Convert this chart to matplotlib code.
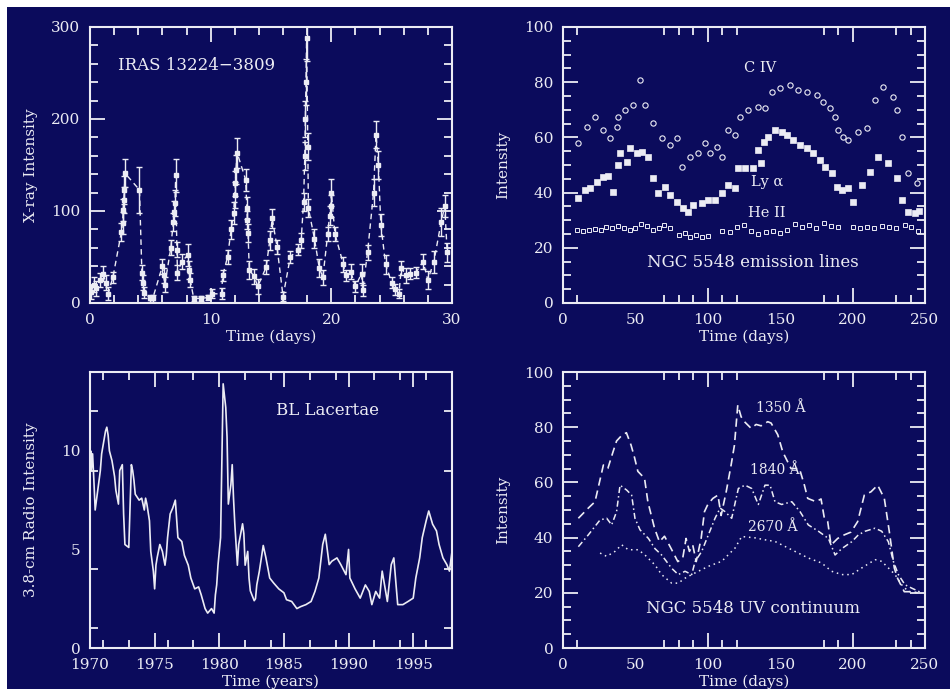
import matplotlib
matplotlib.use('Agg')
import matplotlib.pyplot as plt
from matplotlib.patches import Rectangle

NAVY = '#0b0b5c'
FG = '#ececf4'

# ---------------- Panel 1: IRAS X-ray light curve ----------------
xray_t = [0.1, 0.3, 0.5, 0.8, 1.1, 1.3, 1.5, 1.9, 2.6, 2.7, 2.75, 2.8, 2.85, 2.9,
          4.1, 4.3, 4.4, 4.5, 5.0, 5.2, 6.0, 6.1, 6.2, 6.7, 6.9, 7.0, 7.05, 7.1,
          7.2, 7.25, 7.6, 8.1, 8.2, 8.3, 8.6, 9.2, 9.8, 10.1, 10.9, 11.0, 11.4,
          11.7, 11.9, 12.0, 12.05, 12.1, 12.2, 12.9, 13.0, 13.05, 13.1, 13.2,
          13.6, 13.9, 14.6, 14.9, 15.1, 15.5, 16.0, 16.6, 17.2, 17.5, 17.7, 17.8,
          17.85, 17.9, 17.95, 18.05, 18.1, 18.6, 19.0, 19.3, 19.7, 19.85, 19.95,
          20.0, 20.3, 21.0, 21.2, 21.6, 22.0, 22.5, 22.6, 23.0, 23.5, 23.7, 23.9,
          24.1, 24.5, 25.0, 25.3, 25.6, 25.8, 26.2, 26.5, 27.0, 27.6, 28.0, 28.5,
          29.1, 29.4, 29.6]
xray_f = [12, 20, 16, 25, 32, 22, 10, 28, 77, 87, 101, 112, 123, 141,
          123, 33, 22, 11, 5, 5, 40, 30, 20, 60, 88, 99, 109, 139,
          58, 33, 45, 52, 36, 25, 5, 5, 6, 10, 10, 30, 50,
          80, 98, 117, 130, 145, 163, 134, 103, 90, 76, 36,
          29, 18, 39, 68, 92, 61, 7, 50, 58, 68, 110, 160,
          200, 240, 288, 170, 103, 70, 38, 28, 75, 95, 105,
          120, 75, 42, 30, 34, 18, 32, 14, 55, 120, 183, 150,
          85, 42, 22, 15, 10, 38, 30, 32, 33, 45, 25, 45,
          88, 105, 55]
xray_err = [8, 8, 8, 8, 8, 8, 7, 6, 10, 12, 12, 14, 15, 15,
            25, 8, 8, 6, 4, 4, 8, 8, 8, 8, 10, 12, 14, 18,
            8, 8, 8, 12, 10, 8, 3, 3, 3, 5, 6, 6, 8,
            10, 12, 14, 14, 16, 16, 12, 12, 10, 10, 10,
            8, 8, 8, 10, 10, 8, 5, 6, 6, 8, 10, 15,
            20, 25, 25, 15, 10, 10, 10, 8, 8, 10, 12,
            15, 8, 8, 6, 8, 6, 10, 6, 8, 15, 15, 15,
            12, 10, 6, 6, 5, 8, 8, 6, 6, 8, 10, 12,
            15, 12, 10]

# ---------------- Panel 2: NGC 5548 emission lines ----------------
civ_t = [10.4, 16.6, 22.1, 27.6, 32.5, 37.3, 38.0, 42.8, 48.3, 53.2, 56.6, 62.2,
         68.4, 73.9, 78.7, 82.2, 87.7, 93.2, 98.1, 101.5, 106.4, 109.8, 114.0,
         118.8, 122.2, 127.7, 134.7, 139.5, 144.3, 149.9, 156.8, 162.3, 168.5,
         175.4, 179.6, 184.4, 187.8, 189.9, 193.4, 196.8, 203.7, 209.9, 215.5,
         221.0, 227.9, 230.7, 234.1, 238.3, 244.5]
civ_f = [58.0, 63.8, 67.4, 62.7, 59.8, 63.8, 67.4, 69.9, 71.7, 80.8, 71.7, 65.2,
         59.8, 57.2, 59.8, 49.3, 52.9, 54.3, 58.0, 54.3, 56.5, 52.9, 62.7,
         60.9, 67.4, 69.9, 71.0, 70.7, 76.4, 77.9, 79.0, 77.2, 76.4,
         75.4, 72.8, 70.7, 67.4, 62.7, 60.1, 59.1, 62.0, 63.4, 73.6,
         78.3, 74.6, 69.9, 60.1, 47.1, 43.5]

lya_t = [10.4, 15.2, 18.6, 23.4, 27.9, 31.0, 34.5, 38.0, 39.4, 44.0, 46.3, 51.0,
         54.6, 58.7, 62.2, 65.6, 70.4, 73.9, 78.7, 82.9, 86.3, 89.8, 96.0, 100.0,
         104.8, 109.8, 114.0, 118.8, 121.0, 126.0, 131.0, 134.5, 137.0, 139.0,
         141.6, 146.4, 151.2, 154.7, 158.8, 163.7, 168.5, 172.6, 177.5, 180.9,
         185.8, 189.2, 192.7, 196.8, 200.3, 206.5, 212.0, 217.5, 224.4, 230.7,
         234.1, 238.3, 243.0, 246.0]
lya_f = [38.0, 40.9, 41.7, 43.8, 45.7, 45.9, 40.2, 50.0, 54.3, 51.1, 56.2, 54.3,
         54.7, 52.9, 45.3, 39.9, 42.0, 39.1, 36.6, 34.4, 33.0, 35.5, 36.2, 37.3,
         37.3, 39.9, 42.8, 41.7, 48.9, 49.0, 48.9, 55.5, 50.6, 58.5,
         60.1, 62.7, 62.0, 60.9, 59.1, 57.2, 56.2, 54.3, 51.8, 49.3,
         47.1, 42.0, 40.9, 41.7, 36.6, 42.8, 47.5, 52.9, 50.7, 45.3,
         37.3, 33.0, 32.6, 33.5]

heii_t = [10, 14, 18, 22, 26, 30, 34, 38, 42, 46, 50, 54, 58, 62, 66, 70, 74,
          80, 84, 88, 92, 96, 100, 110, 115, 120, 125, 130, 135, 140, 145, 150,
          155, 160, 165, 170, 175, 180, 185, 190, 200, 205, 210, 215, 220, 225,
          230, 236, 240, 245]
heii_f = [26.5, 26.0, 26.3, 26.8, 26.4, 27.5, 27.0, 27.8, 27.3, 26.5, 27.0, 28.5,
          28.0, 26.5, 27.0, 28.4, 27.2, 24.5, 25.2, 24.0, 24.6, 23.8, 24.2, 26.0,
          25.6, 27.5, 28.2, 26.0, 25.0, 25.6, 26.2, 25.4, 26.6, 28.5, 27.5, 28.4,
          27.0, 29.0, 28.0, 27.4, 27.5, 27.0, 27.6, 27.0, 28.0, 27.4, 27.0, 28.2,
          27.5, 26.0]

# ---------------- Panel 3: BL Lacertae radio ----------------
radio_t = [1970.0, 1970.05, 1970.1, 1970.2, 1970.3, 1970.4, 1970.5, 1970.6, 1970.8,
           1970.9, 1971.2, 1971.3, 1971.4, 1971.5, 1971.7, 1971.9, 1972.0, 1972.2,
           1972.3, 1972.5, 1972.6, 1972.7, 1973.0, 1973.2, 1973.3, 1973.4, 1973.5,
           1973.8, 1974.0, 1974.2, 1974.3, 1974.4, 1974.6, 1974.7, 1974.9, 1975.0,
           1975.1, 1975.2, 1975.4, 1975.6, 1975.8, 1975.9, 1976.0, 1976.2, 1976.4,
           1976.6, 1976.8, 1977.1, 1977.3, 1977.6, 1977.8, 1978.1, 1978.4, 1978.6,
           1978.9, 1979.1, 1979.4, 1979.6, 1979.7, 1979.8, 1979.9, 1980.1, 1980.2,
           1980.3, 1980.5, 1980.6, 1980.7, 1980.9, 1981.0, 1981.1, 1981.2, 1981.4,
           1981.5, 1981.8, 1981.9, 1982.0, 1982.2, 1982.3, 1982.4, 1982.7, 1982.8,
           1982.9, 1983.1, 1983.4, 1983.6, 1983.9, 1984.2, 1984.6, 1985.0, 1985.2,
           1985.6, 1986.0, 1986.3, 1986.7, 1987.1, 1987.4, 1987.7, 1988.0, 1988.2,
           1988.5, 1988.7, 1989.1, 1989.4, 1989.8, 1990.0, 1990.1, 1990.5, 1990.9,
           1991.3, 1991.6, 1991.8, 1992.1, 1992.4, 1992.6, 1993.0, 1993.3, 1993.5,
           1993.8, 1994.2, 1994.6, 1995.0, 1995.2, 1995.5, 1995.7, 1996.0, 1996.2,
           1996.5, 1996.8, 1997.0, 1997.3, 1997.6, 1997.8, 1998.0]
radio_f = [8.7, 10.0, 9.0, 9.85, 8.5, 7.0, 7.5, 8.0, 9.0,
           9.85, 11.0, 11.2, 10.8, 10.0, 9.5, 8.7, 8.0, 7.3,
           9.0, 9.3, 6.8, 5.25, 5.1, 9.3, 9.0, 8.5, 7.8,
           7.5, 7.6, 7.0, 7.6, 7.3, 6.45, 4.9, 3.9, 3.0,
           4.2, 4.6, 5.25, 4.9, 4.2, 4.7, 5.6, 6.8, 7.1,
           7.5, 5.6, 5.4, 4.7, 4.2, 3.55, 3.0, 3.1, 2.7,
           2.0, 1.77, 2.0, 1.77, 2.7, 3.2, 4.2, 5.6, 9.5,
           13.4, 12.2, 10.7, 7.3, 8.3, 9.3, 7.6, 6.3, 4.2,
           5.25, 6.3, 5.8, 4.2, 4.9, 3.55, 2.9, 2.4, 2.5,
           3.2, 3.9, 5.2, 4.6, 3.55, 3.3, 3.0, 2.8, 2.45,
           2.36, 2.0, 2.1, 2.2, 2.36, 2.87, 3.55, 5.25, 5.77,
           4.23, 4.4, 4.57, 4.23, 3.72, 5.0, 3.55, 3.0, 2.53,
           3.2, 2.87, 2.2, 2.87, 2.53, 3.9, 2.36, 4.23, 4.57,
           2.2, 2.2, 2.36, 2.53, 3.55, 4.57, 5.6, 6.45, 6.95,
           6.28, 5.94, 5.25, 4.57, 4.23, 3.9, 4.9]

# ---------------- Panel 4: NGC 5548 UV continuum ----------------
uv1350_t = [10.6, 17.5, 22.1, 27.9, 31.0, 34.5, 37.0, 40.5, 43.8, 47.0, 49.4, 51.7,
            56.3, 58.6, 63.2, 66.6, 70.1, 74.7, 79.3, 82.7, 85.0, 87.3, 89.6, 92.0,
            95.4, 97.7, 100.0, 103.5, 107.0, 109.2, 112.7, 116.1, 118.4, 120.7,
            123.0, 125.3, 129.9, 133.4, 136.8, 141.4, 143.7, 148.3, 151.8, 157.5,
            163.3, 166.7, 169.0, 174.8, 178.2, 180.5, 182.8, 185.1, 189.7, 194.3,
            198.9, 203.5, 208.1, 212.7, 217.3, 221.9, 225.4, 228.8, 231.1, 235.7,
            240.3, 245.0]
uv1350_f = [47.0, 50.7, 53.0, 66.3, 65.1, 71.0, 75.0, 77.0, 78.0, 73.5, 69.0, 64.0,
            61.5, 53.0, 43.4, 38.5, 40.5, 36.0, 31.3, 32.6, 39.7, 35.0, 37.3, 31.3,
            39.7, 49.4, 52.0, 54.2, 55.4, 48.0, 56.6, 66.3, 73.5, 88.0,
            83.8, 82.0, 79.6, 81.0, 80.5, 82.0, 81.5, 77.3, 71.0, 65.0,
            65.0, 59.0, 54.2, 53.0, 54.0, 47.0, 45.8, 37.3, 39.7, 41.0,
            42.0, 45.8, 55.4, 56.6, 59.0, 54.2, 42.0, 29.0, 25.2, 20.4,
            20.4, 20.0]

uv1840_t = [10.6, 17.5, 25.6, 30.2, 33.6, 37.0, 39.4, 44.0, 47.4, 49.7, 53.2, 59.0,
            63.5, 68.1, 75.0, 79.6, 84.3, 88.9, 91.2, 95.8, 100.4, 105.0, 108.5,
            111.9, 116.5, 121.1, 125.7, 130.3, 134.9, 139.5, 143.0, 146.4, 151.0,
            158.0, 163.7, 169.4, 176.4, 183.3, 187.9, 192.5, 199.4, 204.0, 208.6,
            215.5, 220.1, 224.7, 228.2, 231.6, 236.2, 240.8, 247.7]
uv1840_f = [36.7, 41.0, 46.4, 47.0, 44.6, 49.4, 59.0, 57.2, 55.4, 47.0, 42.8, 39.7,
            36.0, 33.7, 28.9, 26.6, 27.8, 26.6, 31.3, 35.0, 41.0, 47.0, 50.7,
            49.4, 47.0, 57.8, 59.0, 57.8, 52.0, 59.0, 59.0, 53.0, 52.0,
            53.0, 49.4, 44.6, 42.3, 39.7, 33.7, 36.0, 38.5, 41.0, 42.3,
            43.4, 42.3, 38.5, 31.3, 26.6, 22.9, 21.7, 20.0]

uv2670_t = [25.6, 30.2, 35.9, 40.5, 45.1, 52.0, 56.6, 63.5, 68.1, 75.0, 79.6, 84.3,
            88.9, 95.8, 100.4, 109.6, 118.8, 123.4, 132.6, 139.5, 146.4, 155.6,
            162.5, 169.4, 178.6, 185.5, 192.5, 199.4, 206.3, 215.5, 220.1, 224.7,
            229.3, 233.9, 238.5, 245.4]
uv2670_f = [34.4, 33.2, 35.0, 37.4, 35.6, 35.6, 33.7, 30.1, 26.6, 23.5, 23.5, 25.3,
            26.6, 28.4, 29.6, 31.4, 36.2, 40.4, 39.9, 39.2, 38.6, 36.2,
            34.4, 32.6, 30.8, 27.8, 26.6, 26.6, 29.0, 32.0, 31.4, 29.0,
            26.6, 22.9, 20.5, 20.0]

# ---------------- Figure ----------------
plt.rcParams['font.family'] = ['DejaVu Serif']
fig = plt.figure(figsize=(9.5, 6.89), dpi=100, facecolor='white')
fig.patches.append(Rectangle((7 / 950, 0), 1, 1 - 7 / 689, transform=fig.transFigure,
                             facecolor=NAVY, edgecolor='none', zorder=-10))

W, H = 362 / 950, 276 / 689
ax1 = fig.add_axes([90 / 950, 1 - 303 / 689, W, H])
ax2 = fig.add_axes([563 / 950, 1 - 303 / 689, W, H])
ax3 = fig.add_axes([90 / 950, 1 - 648 / 689, W, H])
ax4 = fig.add_axes([563 / 950, 1 - 648 / 689, W, H])


def style(ax):
    ax.set_facecolor(NAVY)
    for s in ax.spines.values():
        s.set_color(FG)
        s.set_linewidth(1.5)
    ax.tick_params(which='both', direction='in', top=True, right=True,
                   color=FG, labelcolor=FG, width=1.3, labelsize=11, pad=7)
    ax.tick_params(which='major', length=11)
    ax.tick_params(which='minor', length=5.5)
    ax.yaxis.set_label_coords(-0.145, 0.5)
    ax.xaxis.set_label_coords(0.5, -0.098)


for ax in (ax1, ax2, ax3, ax4):
    style(ax)

# Panel 1
ax1.errorbar(xray_t, xray_f, yerr=xray_err, fmt='s', ms=3, color=FG,
             ecolor=FG, elinewidth=1.0, capsize=2, capthick=1.0)
ax1.plot(xray_t, xray_f, color=FG, lw=1.0, ls=(0, (4, 3)))
ax1.set_xlim(0, 30)
ax1.set_ylim(0, 300)
ax1.set_xticks([0, 10, 20, 30])
ax1.set_xticks(list(range(0, 31, 2)), minor=True)
ax1.set_yticks([0, 100, 200, 300])
ax1.set_yticks(list(range(0, 301, 20)), minor=True)
ax1.set_xlabel('Time (days)', fontsize=11, color=FG)
ax1.set_ylabel('X-ray Intensity', fontsize=11, color=FG)
ax1.text(8.8, 258, 'IRAS 13224\u22123809', ha='center', va='center',
         fontsize=12, color=FG)

# Panels 2 and 4 share axis setup
for ax in (ax2, ax4):
    ax.set_xlim(0, 250)
    ax.set_ylim(0, 100)
    ax.set_xticks([0, 50, 100, 150, 200, 250])
    ax.tick_params(axis='x', which='major', length=0)
    ax.set_xticks([10, 70, 80, 90, 110, 120, 180, 190, 230, 240], minor=True)
    ax.set_yticks([0, 20, 40, 60, 80, 100])
    ax.set_yticks(list(range(0, 101, 5)), minor=True)
    for loc in ('bottom', 'top'):
        sec = ax.secondary_xaxis(loc)
        sec.set_xticks([100, 200])
        sec.tick_params(direction='in', length=11, width=1.3, color=FG,
                        labelbottom=False, labeltop=False)
        for s in sec.spines.values():
            s.set_visible(False)
    ax.set_xlabel('Time (days)', fontsize=11, color=FG)
    ax.set_ylabel('Intensity', fontsize=11, color=FG)

# Panel 2
ax2.plot(civ_t, civ_f, 'o', ms=3.8, mfc='none', mec=FG, mew=0.8)
ax2.plot(lya_t, lya_f, 's', ms=3.8, mfc=FG, mec=FG, mew=0.5)
ax2.plot(heii_t, heii_f, 's', ms=2.6, mfc='none', mec=FG, mew=0.7)
ax2.text(136, 85, 'C IV', ha='center', va='center', fontsize=10.5, color=FG)
ax2.text(141, 44, 'Ly \u03b1', ha='center', va='center', fontsize=10.5, color=FG)
ax2.text(141, 32.5, 'He II', ha='center', va='center', fontsize=10.5, color=FG)
ax2.text(131, 14.5, 'NGC 5548 emission lines', ha='center', va='center',
         fontsize=12, color=FG)

# Panel 3
ax3.plot(radio_t, radio_f, color=FG, lw=1.2)
ax3.set_xlim(1970, 1998)
ax3.set_ylim(0, 14)
ax3.set_xticks([1970, 1975, 1980, 1985, 1990, 1995])
ax3.set_xticks([1971, 1973, 1976, 1978, 1982, 1984, 1987, 1989, 1992, 1994, 1996],
               minor=True)
ax3.set_yticks([0, 5, 10])
ax3.tick_params(axis='y', which='major', length=0)
ax3.set_yticks([1, 4, 9, 12], minor=True)
ax3.set_xlabel('Time (years)', fontsize=11, color=FG)
ax3.set_ylabel('3.8-cm Radio Intensity', fontsize=11, color=FG)
ax3.text(1988.4, 12.06, 'BL Lacertae', ha='center', va='center',
         fontsize=12, color=FG)

# Panel 4
ax4.plot(uv1350_t, uv1350_f, color=FG, lw=1.2, ls=(0, (5, 3)))
ax4.plot(uv1840_t, uv1840_f, color=FG, lw=1.1, ls=(0, (4, 2, 1, 2)))
ax4.plot(uv2670_t, uv2670_f, color=FG, lw=1.1, ls=(0, (1, 2.5)))
ax4.text(133, 87, '1350 \u00c5', ha='left', va='center', fontsize=10, color=FG)
ax4.text(146, 64.5, '1840 \u00c5', ha='center', va='center', fontsize=10, color=FG)
ax4.text(145, 44, '2670 \u00c5', ha='center', va='center', fontsize=10, color=FG)
ax4.text(131, 14.4, 'NGC 5548 UV continuum', ha='center', va='center',
         fontsize=12, color=FG)

fig.savefig('out.png', dpi=100, facecolor=fig.get_facecolor())
